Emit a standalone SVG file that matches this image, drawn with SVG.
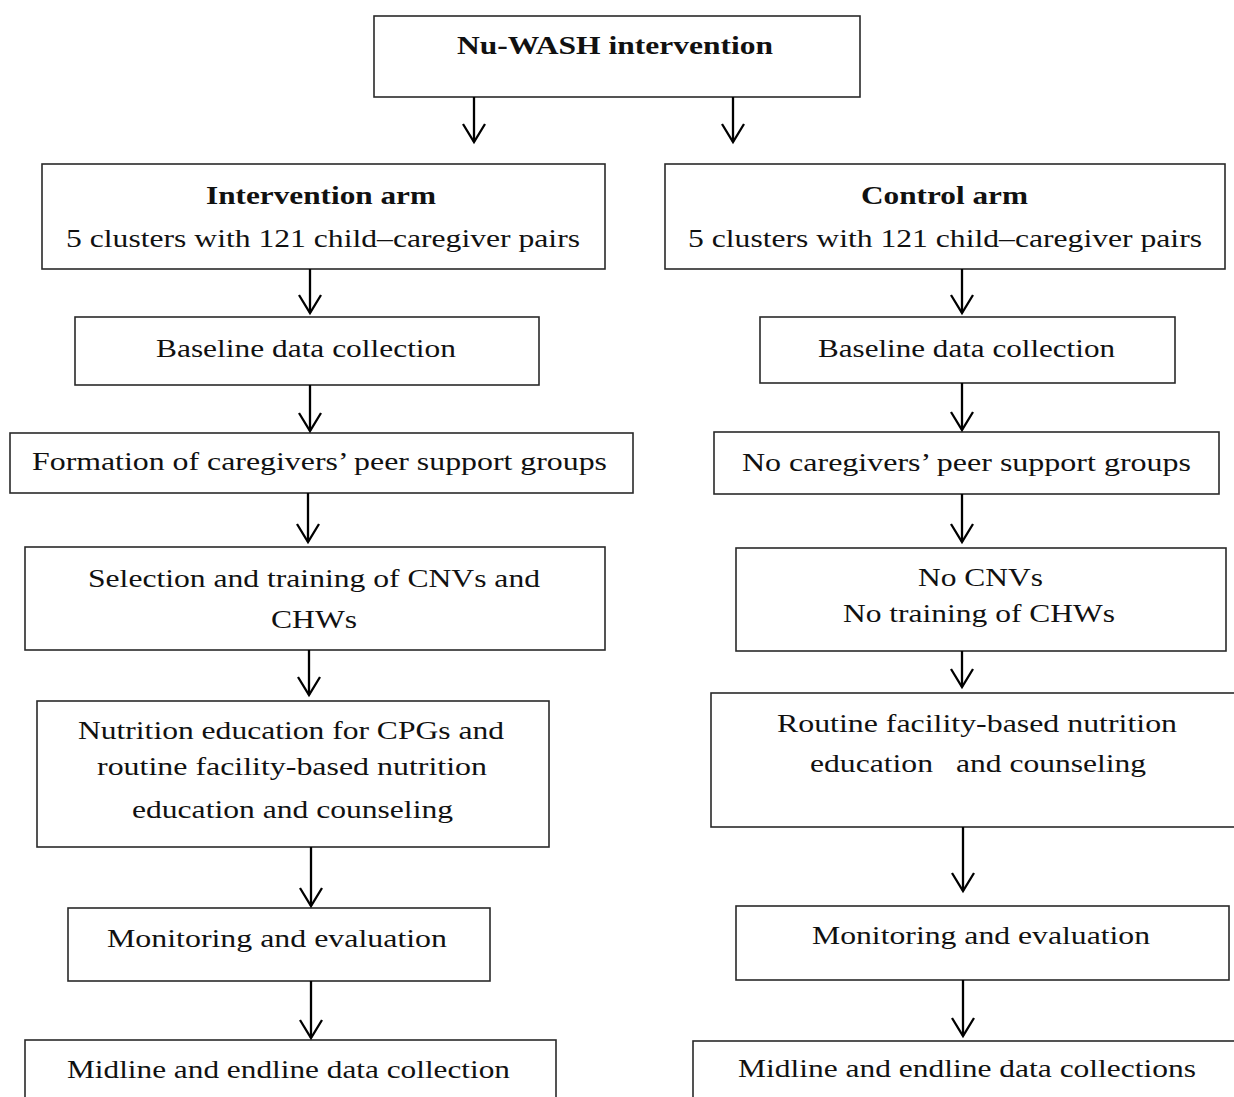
<svg xmlns="http://www.w3.org/2000/svg" width="1234" height="1097" viewBox="0 0 1234 1097">
<style>
.box{fill:#fff;stroke:#2a2a2a;stroke-width:1.6}
.t{font-family:"Liberation Serif","Times New Roman",serif;font-size:26px;fill:#111}
.b{font-weight:bold}
.con{stroke:#000;stroke-width:2.3;fill:none}
</style>
<defs>
<marker id="ah" markerUnits="userSpaceOnUse" viewBox="-22 -14 26 28" markerWidth="26" markerHeight="28" refX="0" refY="0" orient="auto">
<path d="M-18,-11 L0,0 L-18,11" fill="none" stroke="#000" stroke-width="2.3"/>
</marker>
</defs>
<rect width="1234" height="1097" fill="#fff"/>
<g id="nodes">
<g id="n-top">
<rect class="box" x="374" y="16" width="486" height="81"/>
<text class="t b" x="457" y="54" font-size="25" textLength="316" lengthAdjust="spacingAndGlyphs">Nu-WASH intervention</text>
</g>
<g id="n-int-arm">
<rect class="box" x="42" y="164" width="563" height="105"/>
<text class="t b" x="206" y="204" textLength="230" lengthAdjust="spacingAndGlyphs">Intervention arm</text>
<text class="t" x="66" y="247" textLength="514" lengthAdjust="spacingAndGlyphs">5 clusters with 121 child–caregiver pairs</text>
</g>
<g id="n-ctl-arm">
<rect class="box" x="665" y="164" width="560" height="105"/>
<text class="t b" x="861" y="204" textLength="167" lengthAdjust="spacingAndGlyphs">Control arm</text>
<text class="t" x="688" y="247" textLength="514" lengthAdjust="spacingAndGlyphs">5 clusters with 121 child–caregiver pairs</text>
</g>
<g id="n-int-baseline">
<rect class="box" x="75" y="317" width="464" height="68"/>
<text class="t" x="156" y="357" textLength="300" lengthAdjust="spacingAndGlyphs">Baseline data collection</text>
</g>
<g id="n-ctl-baseline">
<rect class="box" x="760" y="317" width="415" height="66"/>
<text class="t" x="818" y="357" textLength="297" lengthAdjust="spacingAndGlyphs">Baseline data collection</text>
</g>
<g id="n-int-groups">
<rect class="box" x="10" y="433" width="623" height="60"/>
<text class="t" x="32" y="470" textLength="575" lengthAdjust="spacingAndGlyphs">Formation of caregivers’ peer support groups</text>
</g>
<g id="n-ctl-groups">
<rect class="box" x="714" y="432" width="505" height="62"/>
<text class="t" x="742" y="471" textLength="449" lengthAdjust="spacingAndGlyphs">No caregivers’ peer support groups</text>
</g>
<g id="n-int-cnv">
<rect class="box" x="25" y="547" width="580" height="103"/>
<text class="t" x="88" y="587" textLength="452" lengthAdjust="spacingAndGlyphs">Selection and training of CNVs and</text>
<text class="t" x="271" y="628" textLength="86" lengthAdjust="spacingAndGlyphs">CHWs</text>
</g>
<g id="n-ctl-cnv">
<rect class="box" x="736" y="548" width="490" height="103"/>
<text class="t" x="918" y="586" textLength="125" lengthAdjust="spacingAndGlyphs">No CNVs</text>
<text class="t" x="843" y="622" textLength="272" lengthAdjust="spacingAndGlyphs">No training of CHWs</text>
</g>
<g id="n-int-nutrition">
<rect class="box" x="37" y="701" width="512" height="146"/>
<text class="t" x="78" y="739" textLength="426" lengthAdjust="spacingAndGlyphs">Nutrition education for CPGs and</text>
<text class="t" x="97" y="775" textLength="390" lengthAdjust="spacingAndGlyphs">routine facility-based nutrition</text>
<text class="t" x="132" y="818" textLength="321" lengthAdjust="spacingAndGlyphs">education and counseling</text>
</g>
<g id="n-ctl-nutrition">
<rect class="box" x="711" y="693" width="530" height="134"/>
<text class="t" x="777" y="732" textLength="400" lengthAdjust="spacingAndGlyphs">Routine facility-based nutrition</text>
<text class="t" y="772"><tspan x="810" textLength="123" lengthAdjust="spacingAndGlyphs">education</tspan><tspan x="956" textLength="190" lengthAdjust="spacingAndGlyphs">and counseling</tspan></text>
</g>
<g id="n-int-monitor">
<rect class="box" x="68" y="908" width="422" height="73"/>
<text class="t" x="107" y="947" textLength="340" lengthAdjust="spacingAndGlyphs">Monitoring and evaluation</text>
</g>
<g id="n-ctl-monitor">
<rect class="box" x="736" y="906" width="493" height="74"/>
<text class="t" x="812" y="944" textLength="338" lengthAdjust="spacingAndGlyphs">Monitoring and evaluation</text>
</g>
<g id="n-int-midline">
<rect class="box" x="25" y="1040" width="531" height="80"/>
<text class="t" x="67" y="1078" textLength="443" lengthAdjust="spacingAndGlyphs">Midline and endline data collection</text>
</g>
<g id="n-ctl-midline">
<rect class="box" x="693" y="1041" width="560" height="80"/>
<text class="t" x="738" y="1077" textLength="458" lengthAdjust="spacingAndGlyphs">Midline and endline data collections</text>
</g>
</g>
<g id="connectors">
<line class="con" x1="474" y1="97" x2="474" y2="142" marker-end="url(#ah)"/>
<line class="con" x1="733" y1="97" x2="733" y2="142" marker-end="url(#ah)"/>
<line class="con" x1="310" y1="269" x2="310" y2="313" marker-end="url(#ah)"/>
<line class="con" x1="962" y1="269" x2="962" y2="313" marker-end="url(#ah)"/>
<line class="con" x1="310" y1="385" x2="310" y2="431" marker-end="url(#ah)"/>
<line class="con" x1="962" y1="383" x2="962" y2="430" marker-end="url(#ah)"/>
<line class="con" x1="308" y1="493" x2="308" y2="542" marker-end="url(#ah)"/>
<line class="con" x1="962" y1="494" x2="962" y2="542" marker-end="url(#ah)"/>
<line class="con" x1="309" y1="650" x2="309" y2="695" marker-end="url(#ah)"/>
<line class="con" x1="962" y1="651" x2="962" y2="687" marker-end="url(#ah)"/>
<line class="con" x1="311" y1="847" x2="311" y2="906" marker-end="url(#ah)"/>
<line class="con" x1="963" y1="827" x2="963" y2="891" marker-end="url(#ah)"/>
<line class="con" x1="311" y1="981" x2="311" y2="1038" marker-end="url(#ah)"/>
<line class="con" x1="963" y1="980" x2="963" y2="1036" marker-end="url(#ah)"/>
</g>
</svg>
